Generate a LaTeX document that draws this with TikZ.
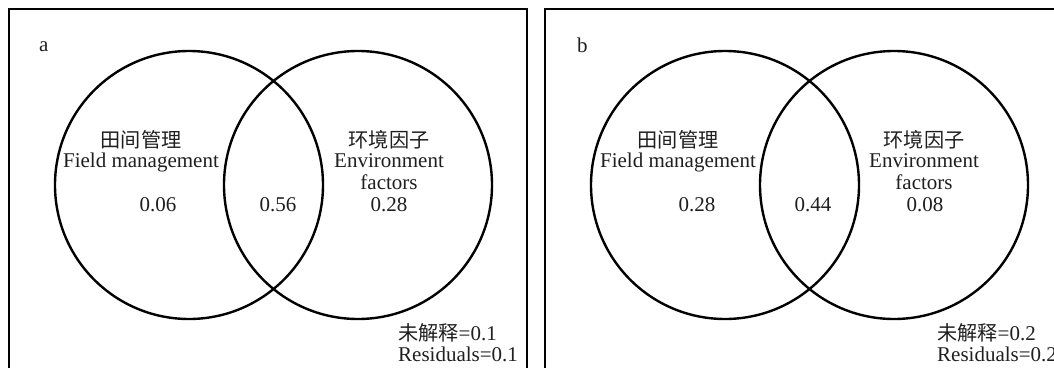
\documentclass[tikz,border=0pt]{standalone}
\usepackage{fontspec}
\setmainfont{Liberation Serif}
\newfontfamily\cjk[Scale=0.96]{Noto Sans CJK SC}
\tikzset{
  panel/.style={draw=black, line width=1.8pt},
  venn/.style={circle, draw=black, line width=2.4pt, minimum size=268pt, inner sep=0pt},
  lbl/.style={anchor=base, inner sep=0pt, font=\fontsize{21}{21.5}\selectfont, text=black!88},
  lbll/.style={lbl, anchor=base west},
}
\begin{document}
\begin{tikzpicture}[x=1pt,y=-1pt]
\clip (0,0) rectangle (1054,367);
\fill[white] (0,0) rectangle (1054,367);
% panel a
\draw[panel] (9,9) rectangle (527,390);
\node[venn] (aL) at (189,185) {};
\node[venn] (aR) at (358,185) {};
\node[lbll] (atag) at (39,51) {a};
\node[lbl] (aLc) at (141,147) {\cjk 田间管理};
\node[lbl] (aLe) at (141,167) {Field management};
\node[lbl] (aRc) at (389,147) {\cjk 环境因子};
\node[lbl] (aRe) at (389,167) {Environment};
\node[lbl] (aRf) at (389,189) {factors};
\node[lbl] (aV1) at (158,211) {0.06};
\node[lbl] (aV2) at (278,211) {0.56};
\node[lbl] (aV3) at (389,211) {0.28};
\node[lbll] (aRes1) at (398,340) {{\cjk 未解释}=0.1};
\node[lbll] (aRes2) at (398,361) {Residuals=0.1};
% panel b
\draw[panel] (545,9) rectangle (1063,390);
\node[venn] (bL) at (725,185) {};
\node[venn] (bR) at (894,185) {};
\node[lbll] (btag) at (577,52) {b};
\node[lbl] (bLc) at (678,147) {\cjk 田间管理};
\node[lbl] (bLe) at (678,167) {Field management};
\node[lbl] (bRc) at (924,147) {\cjk 环境因子};
\node[lbl] (bRe) at (924,167) {Environment};
\node[lbl] (bRf) at (924,189) {factors};
\node[lbl] (bV1) at (697,211) {0.28};
\node[lbl] (bV2) at (813,211) {0.44};
\node[lbl] (bV3) at (925,211) {0.08};
\node[lbll] (bRes1) at (937,340) {{\cjk 未解释}=0.2};
\node[lbll] (bRes2) at (937,361) {Residuals=0.2};
\end{tikzpicture}
\end{document}
